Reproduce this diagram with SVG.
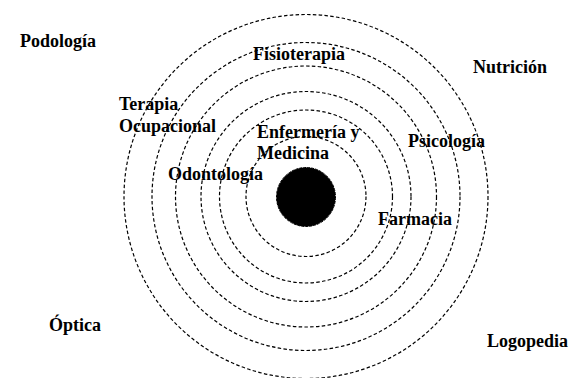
<svg xmlns="http://www.w3.org/2000/svg" width="572" height="378" viewBox="0 0 572 378">
<style>
.ring{fill:none;stroke:#000;stroke-width:1.2;stroke-dasharray:3.5 2.3}
.lbl{font-family:"Liberation Serif","Times New Roman",serif;font-weight:bold;font-size:18px;fill:#000}
</style>
<rect width="572" height="378" fill="#fff"/>
<g id="connectors">
<circle class="ring" cx="306" cy="196.5" r="60"/>
<circle class="ring" cx="306" cy="196.5" r="86.5"/>
<circle class="ring" cx="306" cy="196.5" r="105"/>
<circle class="ring" cx="306" cy="196.5" r="130.5"/>
<circle class="ring" cx="306" cy="196.5" r="154"/>
<circle class="ring" cx="306" cy="196.5" r="182"/>
</g>
<g id="centro"><circle cx="306" cy="197" r="29.5" fill="#000" stroke="#000" stroke-width="1" stroke-dasharray="3 1"/></g>
<g id="enfermeria"><text class="lbl" x="257" y="138">Enfermería y</text><text class="lbl" x="257" y="159">Medicina</text></g>
<g id="odontologia"><text class="lbl" x="168" y="180">Odontología</text></g>
<g id="farmacia"><text class="lbl" x="378" y="225">Farmacia</text></g>
<g id="fisioterapia"><text class="lbl" x="253" y="60">Fisioterapia</text></g>
<g id="terapia"><text class="lbl" x="119" y="110">Terapia</text><text class="lbl" x="119" y="132">Ocupacional</text></g>
<g id="psicologia"><text class="lbl" x="408" y="147">Psicología</text></g>
<g id="podologia"><text class="lbl" x="20" y="47">Podología</text></g>
<g id="nutricion"><text class="lbl" x="473" y="73">Nutrición</text></g>
<g id="optica"><text class="lbl" x="49" y="331">Óptica</text></g>
<g id="logopedia"><text class="lbl" x="487" y="347">Logopedia</text></g>
</svg>
